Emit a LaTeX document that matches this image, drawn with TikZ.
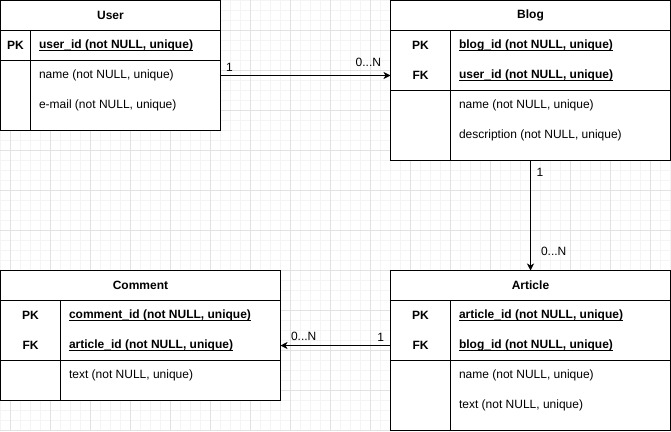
\documentclass[tikz,border=0pt]{standalone}
\usepackage{fontspec}
\setmainfont{Liberation Sans}
\usetikzlibrary{arrows.meta,positioning}

\definecolor{gridminor}{HTML}{F4F4F4}
\definecolor{gridmajor}{HTML}{E2E2E2}

% text size of the diagram
\newcommand{\erfont}{\fontsize{12}{14}\selectfont}
% underlined key field
\newcommand{\keyline}[1]{\leavevmode\setbox0\hbox{#1}\rlap{\rule[-2pt]{\wd0}{0.8pt}}\box0}

\tikzset{
  table/.style={draw, line width=1pt, anchor=north west, inner sep=0pt, outer sep=0pt},
  title/.style={font=\erfont\bfseries},
  keytag/.style={font=\erfont\bfseries},
  keyfield/.style={font=\erfont\bfseries, anchor=west, inner sep=0pt},
  field/.style={font=\erfont, anchor=west, inner sep=0pt},
  rel/.style={line width=1pt, -{Stealth[length=7pt, width=7pt, inset=2pt]}},
  card/.style={font=\erfont, inner sep=0pt},
}

\begin{document}
\begin{tikzpicture}[x=1pt, y=-1pt, line width=1pt]
\useasboundingbox (-0.5,-0.5) rectangle (670.5,430.5);

% background grid
\foreach \x in {0,10,...,670} \draw[gridminor] (\x,-0.5) -- (\x,430.5);
\foreach \y in {0,10,...,430} \draw[gridminor] (-0.5,\y) -- (670.5,\y);
\foreach \x in {10,50,...,650} \draw[gridmajor] (\x,-0.5) -- (\x,430.5);
\foreach \y in {30,70,...,430} \draw[gridmajor] (-0.5,\y) -- (670.5,\y);

% User
\begin{scope}[shift={(0,0)}]
  \node[table, fill=white, minimum width=220pt, minimum height=130pt] (user) at (0,0) {};
  \draw (0,30) -- (220,30) (0,60) -- (220,60) (30,30) -- (30,130);
  \node[title] (usertitle) at (110,15) {User};
  \node[keytag] (userpk) at (15,45) {PK};
  \node[keyfield] (userid) at (38,45) {\keyline{user\_id (not NULL, unique)}};
  \node[field] (username) at (38,75) {name (not NULL, unique)};
  \node[field] (usermail) at (38,105) {e-mail (not NULL, unique)};
\end{scope}

% Blog
\begin{scope}[shift={(390,0)}]
  \node[table, fill=white, minimum width=280pt, minimum height=160pt] (blog) at (0,0) {};
  \draw (0,30) -- (280,30) (0,90) -- (280,90) (60,30) -- (60,160);
  \node[title] (blogtitle) at (140,15) {Blog};
  \node[keytag] (blogpk) at (30,45) {PK};
  \node[keyfield] (blogid) at (68,45) {\keyline{blog\_id (not NULL, unique)}};
  \node[keytag] (blogfk) at (30,75) {FK};
  \node[keyfield] (bloguser) at (68,75) {\keyline{user\_id (not NULL, unique)}};
  \node[field] (blogname) at (68,105) {name (not NULL, unique)};
  \node[field] (blogdesc) at (68,135) {description (not NULL, unique)};
\end{scope}

% Comment
\begin{scope}[shift={(0,270)}]
  \node[table, fill=white, minimum width=280pt, minimum height=130pt] (comment) at (0,0) {};
  \draw (0,30) -- (280,30) (0,90) -- (280,90) (60,30) -- (60,130);
  \node[title] (commenttitle) at (140,15) {Comment};
  \node[keytag] (commentpk) at (30,45) {PK};
  \node[keyfield] (commentid) at (68,45) {\keyline{comment\_id (not NULL, unique)}};
  \node[keytag] (commentfk) at (30,75) {FK};
  \node[keyfield] (commentarticle) at (68,75) {\keyline{article\_id (not NULL, unique)}};
  \node[field] (commenttext) at (68,105) {text (not NULL, unique)};
\end{scope}

% Article
\begin{scope}[shift={(390,270)}]
  \node[table, fill=white, minimum width=280pt, minimum height=160pt] (article) at (0,0) {};
  \draw (0,30) -- (280,30) (0,90) -- (280,90) (60,30) -- (60,160);
  \node[title] (articletitle) at (140,15) {Article};
  \node[keytag] (articlepk) at (30,45) {PK};
  \node[keyfield] (articleid) at (68,45) {\keyline{article\_id (not NULL, unique)}};
  \node[keytag] (articlefk) at (30,75) {FK};
  \node[keyfield] (articleblog) at (68,75) {\keyline{blog\_id (not NULL, unique)}};
  \node[field] (articlename) at (68,105) {name (not NULL, unique)};
  \node[field] (articletext) at (68,135) {text (not NULL, unique)};
\end{scope}

% relations
\draw[rel] (user.east |- blogfk) -- (blog.west |- blogfk)
  node[card, at start, anchor=south west, xshift=5pt, yshift=4pt] (userone) {1}
  node[card, at end, anchor=south east, xshift=-9pt, yshift=8pt] (blogmany) {0...N};
\draw[rel] (blog.south) -- (article.north)
  node[card, at start, anchor=north west, xshift=5.5pt, yshift=-7pt] (blogone) {1}
  node[card, at end, anchor=south west, xshift=10pt, yshift=14pt] (articlemany) {0...N};
\draw[rel] (article.west |- commentfk) -- (comment.east |- commentfk)
  node[card, at start, anchor=south east, xshift=-6pt, yshift=4pt] (articleone) {1}
  node[card, at end, anchor=south west, xshift=10pt, yshift=4pt] (commentmany) {0...N};
\end{tikzpicture}
\end{document}
